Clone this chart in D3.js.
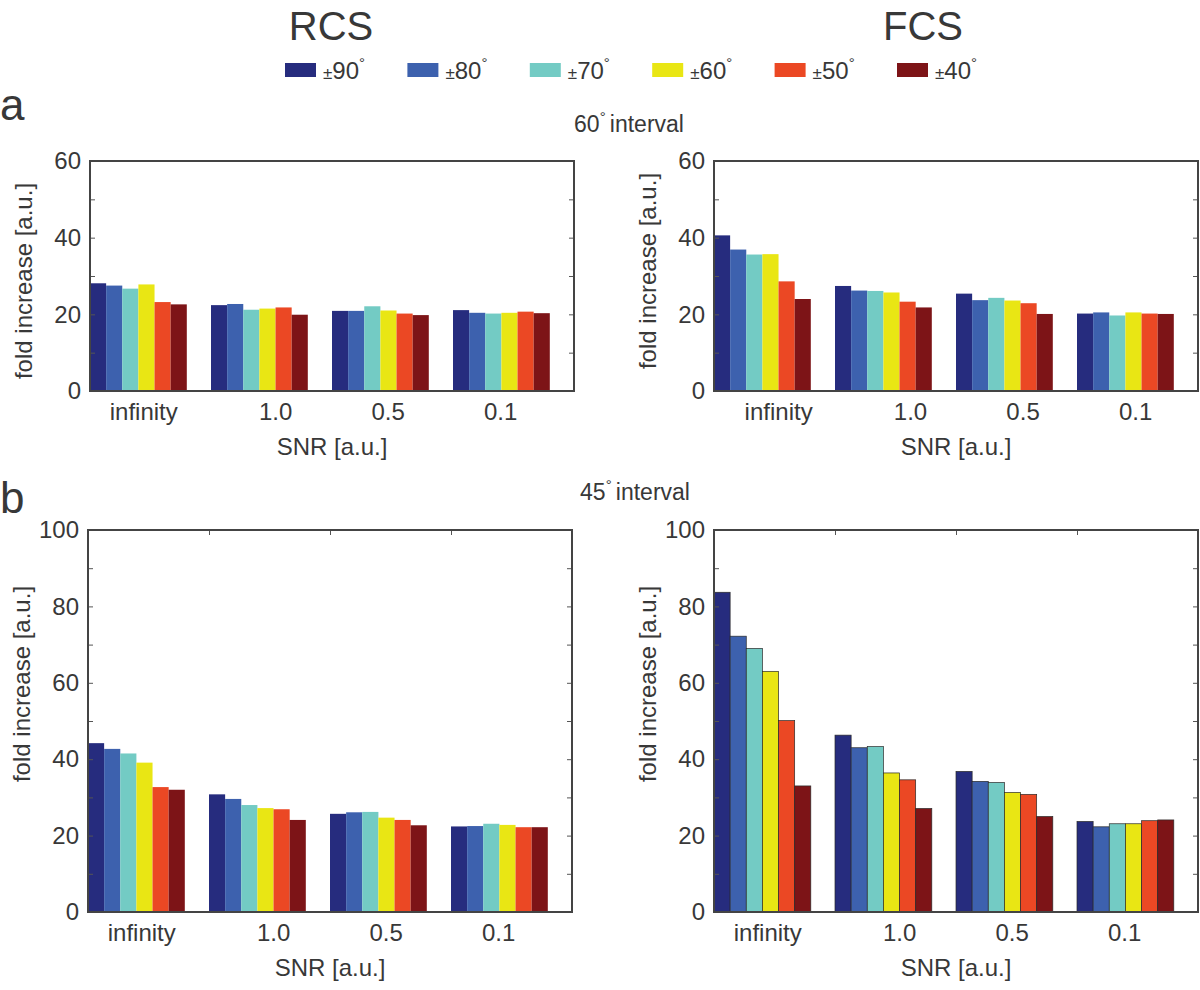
<!DOCTYPE html>
<html>
<head>
<meta charset="utf-8">
<script src="https://cdn.jsdelivr.net/npm/d3@7"></script>
<style>
  body { margin: 0; background: #fff; }
  text { font-family: "Liberation Sans", Arial, sans-serif; fill: #383838; }
</style>
</head>
<body>
<div id="chart"></div>
<script>
var svgWidth = 1200;
var svgHeight = 990;

// data
var snrLabels = ["infinity", "1.0", "0.5", "0.1"];
var angleLabels = ["90", "80", "70", "60", "50", "40"];
var colors = ["#262c7e", "#3d61ae", "#73cbc4", "#e9e614", "#eb4824", "#7d1417"];

// rows = SNR groups, cols = angle range
var rcs60 = [
    [28.1, 27.5, 26.7, 27.8, 23.2, 22.6],
    [22.4, 22.7, 21.2, 21.5, 21.8, 19.9],
    [20.9, 20.9, 22.1, 21.0, 20.2, 19.8],
    [21.1, 20.4, 20.2, 20.4, 20.7, 20.3]
];
var fcs60 = [
    [40.6, 36.9, 35.6, 35.7, 28.6, 24.0],
    [27.4, 26.2, 26.1, 25.7, 23.3, 21.8],
    [25.4, 23.7, 24.3, 23.6, 22.9, 20.1],
    [20.2, 20.5, 19.7, 20.5, 20.2, 20.1]
];
var rcs45 = [
    [44.2, 42.7, 41.5, 39.1, 32.7, 32.0],
    [30.8, 29.6, 28.0, 27.2, 26.9, 24.1],
    [25.7, 26.1, 26.2, 24.7, 24.1, 22.7],
    [22.4, 22.5, 23.1, 22.8, 22.2, 22.2]
];
var fcs45 = [
    [83.7, 72.2, 69.0, 63.0, 50.1, 33.0],
    [46.3, 43.0, 43.3, 36.4, 34.6, 27.1],
    [36.8, 34.2, 33.9, 31.3, 30.8, 25.0],
    [23.7, 22.3, 23.1, 23.1, 23.9, 24.1]
];

var yTicks60 = [0, 10, 20, 30, 40, 50, 60];
var yTicks45 = [0, 10, 20, 30, 40, 50, 60, 70, 80, 90, 100];
// where the category labels sit on the x axis (MATLAB units)
var xLabelPos = [1.04, 2.13, 3.06, 3.99];

var panels = [
    { data: rcs60, ticks: yTicks60, left: 90, top: 161, bottom: 391, labelY: 281, shift: 0, edges: false, topTicks: false },
    { data: fcs60, ticks: yTicks60, left: 714, top: 161, bottom: 391, labelY: 271, shift: 0.09, edges: false, topTicks: false },
    { data: rcs45, ticks: yTicks45, left: 88, top: 530, bottom: 912, labelY: 684, shift: 0, edges: false, topTicks: true },
    { data: fcs45, ticks: yTicks45, left: 714, top: 530, bottom: 912, labelY: 684, shift: 0, edges: true, topTicks: true }
];
var boxWidth = 484;

var svg = d3.select("#chart")
    .append("svg")
    .attr("width", svgWidth)
    .attr("height", svgHeight);

// column titles
svg.append("text").attr("x", 331).attr("y", 40).attr("text-anchor", "middle")
    .style("font-size", "40px").text("RCS");
svg.append("text").attr("x", 923).attr("y", 40).attr("text-anchor", "middle")
    .style("font-size", "40px").text("FCS");

// panel letters
svg.append("text").attr("x", 0).attr("y", 120).style("font-size", "44px").text("a");
svg.append("text").attr("x", 0).attr("y", 513).style("font-size", "44px").text("b");

// interval headings
function heading(x, y, num) {
    var t = svg.append("text").attr("x", x).attr("y", y).attr("text-anchor", "middle")
        .style("font-size", "23px");
    t.append("tspan").text(num);
    t.append("tspan").attr("dy", -10).style("font-size", "15px").text("\u00b0 ");
    t.append("tspan").attr("dy", 10).text("interval");
}
heading(629, 132, "60");
heading(635, 500, "45");

// legend
var legend = svg.append("g");
angleLabels.forEach(function(a, i) {
    var lx = 285 + i * 122.4;
    legend.append("rect")
        .attr("x", lx).attr("y", 63)
        .attr("width", 31).attr("height", 14)
        .attr("fill", colors[i]);
    var t = legend.append("text").attr("x", lx + 38).attr("y", 79)
        .style("font-size", "24px");
    t.append("tspan").style("font-size", "17px").text("\u00b1");
    t.append("tspan").text(a);
    t.append("tspan").attr("dy", -11).style("font-size", "15px").text("\u00b0");
});

panels.forEach(function(p) {
    var g = svg.append("g").attr("transform", `translate(${p.left}, 0)`);
    var yMax = d3.max(p.ticks);

    var xScale = d3.scaleLinear()
        .domain([0.6, 4.6])
        .range([0, boxWidth]);
    var yScale = d3.scaleLinear()
        .domain([0, yMax])
        .range([p.bottom, p.top]);

    var groupW = xScale(1.4) - xScale(0.6);
    var barScale = d3.scaleBand()
        .domain(d3.range(angleLabels.length))
        .range([0, groupW])
        .padding(0);

    // bars
    p.data.forEach(function(row, gi) {
        var x0 = xScale(gi + 1 - 0.4);
        g.selectAll(null)
            .data(row)
            .enter()
            .append("rect")
            .attr("x", (d, i) => x0 + barScale(i))
            .attr("y", d => yScale(d))
            .attr("width", barScale.bandwidth())
            .attr("height", d => yScale(0) - yScale(d))
            .attr("fill", (d, i) => colors[i])
            .attr("stroke", p.edges ? "#2a2a2a" : "none")
            .attr("stroke-width", 0.7);
    });

    // y axes, ticks pointing inward
    var leftAxis = d3.axisLeft(yScale)
        .tickValues(p.ticks)
        .tickSizeInner(-5)
        .tickSizeOuter(0)
        .tickPadding(9)
        .tickFormat(d => d % 20 === 0 ? d : "");
    var yAx = g.append("g").call(leftAxis);
    yAx.select(".domain").remove();
    yAx.selectAll("line").attr("stroke", "#555");
    yAx.selectAll("text").style("font-size", "24px").attr("fill", "#383838")
        .attr("font-family", "Liberation Sans, Arial, sans-serif");

    var rightAxis = d3.axisRight(yScale)
        .tickValues(p.ticks)
        .tickSizeInner(-5)
        .tickSizeOuter(0)
        .tickFormat("");
    var rAx = g.append("g").attr("transform", `translate(${boxWidth}, 0)`).call(rightAxis);
    rAx.select(".domain").remove();
    rAx.selectAll("line").attr("stroke", "#555");

    if (p.topTicks) {
        var topAxis = d3.axisTop(xScale)
            .tickValues([1.6, 2.6, 3.6])
            .tickSizeInner(-5)
            .tickSizeOuter(0)
            .tickFormat("");
        var tAx = g.append("g").attr("transform", `translate(0, ${p.top})`).call(topAxis);
        tAx.select(".domain").remove();
        tAx.selectAll("line").attr("stroke", "#555");
    }

    // category labels
    var bottomAxis = d3.axisBottom(xScale)
        .tickValues(xLabelPos.map(v => v + p.shift))
        .tickSize(0)
        .tickPadding(12)
        .tickFormat((d, i) => snrLabels[i]);
    var xAx = g.append("g").attr("transform", `translate(0, ${p.bottom})`).call(bottomAxis);
    xAx.select(".domain").remove();
    xAx.selectAll("text").style("font-size", "24px").attr("fill", "#383838")
        .attr("font-family", "Liberation Sans, Arial, sans-serif");

    // box
    g.append("rect")
        .attr("x", 0).attr("y", p.top)
        .attr("width", boxWidth).attr("height", p.bottom - p.top)
        .attr("fill", "none")
        .attr("stroke", "#444")
        .attr("stroke-width", 2);

    // axis titles
    g.append("text")
        .attr("transform", "rotate(-90)")
        .attr("x", -p.labelY)
        .attr("y", -58)
        .attr("text-anchor", "middle")
        .style("font-size", "24px")
        .text("fold increase [a.u.]");

    g.append("text")
        .attr("x", boxWidth / 2)
        .attr("y", p.bottom + 64)
        .attr("text-anchor", "middle")
        .style("font-size", "24px")
        .text("SNR [a.u.]");
});
</script>
</body>
</html>
